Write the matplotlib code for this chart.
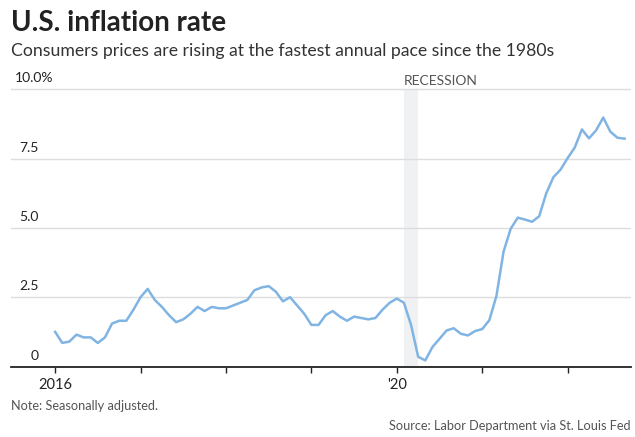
import numpy as np
import matplotlib.pyplot as plt

plt.rcParams['font.family'] = ['Lato', 'DejaVu Sans']

# monthly CPI year-over-year change, Jan 2016 .. Sep 2022
inflation = [
    1.25, 0.85, 0.9, 1.15, 1.05, 1.05, 0.85, 1.05, 1.55, 1.65, 1.65, 2.05,   # 2016
    2.5, 2.8, 2.4, 2.15, 1.85, 1.6, 1.7, 1.9, 2.15, 2.0, 2.15, 2.1,          # 2017
    2.1, 2.2, 2.3, 2.4, 2.75, 2.85, 2.9, 2.7, 2.35, 2.5, 2.2, 1.9,           # 2018
    1.5, 1.5, 1.85, 2.0, 1.8, 1.65, 1.8, 1.75, 1.7, 1.75, 2.05, 2.3,        # 2019
    2.45, 2.3, 1.5, 0.35, 0.22, 0.7, 1.0, 1.3, 1.38, 1.18, 1.12, 1.28,     # 2020
    1.35, 1.67, 2.55, 4.15, 4.97, 5.37, 5.3, 5.22, 5.42, 6.25, 6.83, 7.1,  # 2021
    7.52, 7.9, 8.55, 8.23, 8.52, 8.98, 8.47, 8.25, 8.22,                    # 2022
]
months = np.arange(len(inflation))
year_ticks = [0, 12, 24, 36, 48, 60, 72]
year_labels = ['2016', '', '', '', "'20", '', '']
y_ticks = [0, 2.5, 5.0, 7.5, 10.0]
y_labels = ['0', '2.5', '5.0', '7.5', '10.0%']
recession = (48.95, 50.95)

W, H = 635, 437
fig = plt.figure(figsize=(W / 100, H / 100), dpi=100)
ax = fig.add_axes([11 / W, 1 - 366.5 / H, 620 / W, (366.5 - 86.5) / H])

ax.fill_between(recession, 0, 10, color='#f0f1f3', lw=0, zorder=0)
ax.plot(months, inflation, color='#80b4e3', lw=1.8, zorder=3, solid_joinstyle='round')

ax.set_xlim(-6.2, 80.9)
ax.set_ylim(0, 10.1)
for v in y_ticks[1:]:
    ax.axhline(v, color='#dddddd', lw=1, zorder=1)

ax.set_yticks([])
ax.set_xticks(year_ticks)
ax.set_xticklabels(year_labels, fontsize=10.5, color='#222222')
ax.tick_params(axis='x', length=4, width=1, color='#222222', pad=4)
for s in ['top', 'right', 'left']:
    ax.spines[s].set_visible(False)
ax.spines['bottom'].set_color('#222222')
ax.spines['bottom'].set_linewidth(1.3)

# y labels sit just above their gridlines, at the left of the plot
ytrans = ax.get_yaxis_transform()
for v, lab in zip(y_ticks, y_labels):
    if lab.endswith('%'):
        ax.text((15 - 11) / 620, v + 0.18, lab, transform=ytrans, fontsize=10,
                color='#222222', ha='left', va='bottom')
    else:
        ax.text((39 - 11) / 620, v + 0.18, lab, transform=ytrans, fontsize=10,
                color='#222222', ha='right', va='bottom')

ax.text(recession[0], 10.17, 'RECESSION', fontsize=10, color='#555555',
        ha='left', va='baseline')

fig.text(11 / W, 1 - 31 / H, 'U.S. inflation rate', fontsize=20, fontweight='bold',
         color='#222222', ha='left', va='baseline')
fig.text(11 / W, 1 - 56 / H,
         'Consumers prices are rising at the fastest annual pace since the 1980s',
         fontsize=12.7, color='#333333', ha='left', va='baseline')
fig.text(11 / W, 1 - 410 / H, 'Note: Seasonally adjusted.', fontsize=9.2,
         color='#555555', ha='left', va='baseline')
fig.text(631 / W, 1 - 430 / H, 'Source: Labor Department via St. Louis Fed',
         fontsize=9.2, color='#555555', ha='right', va='baseline')

fig.savefig('out.png', dpi=100)
